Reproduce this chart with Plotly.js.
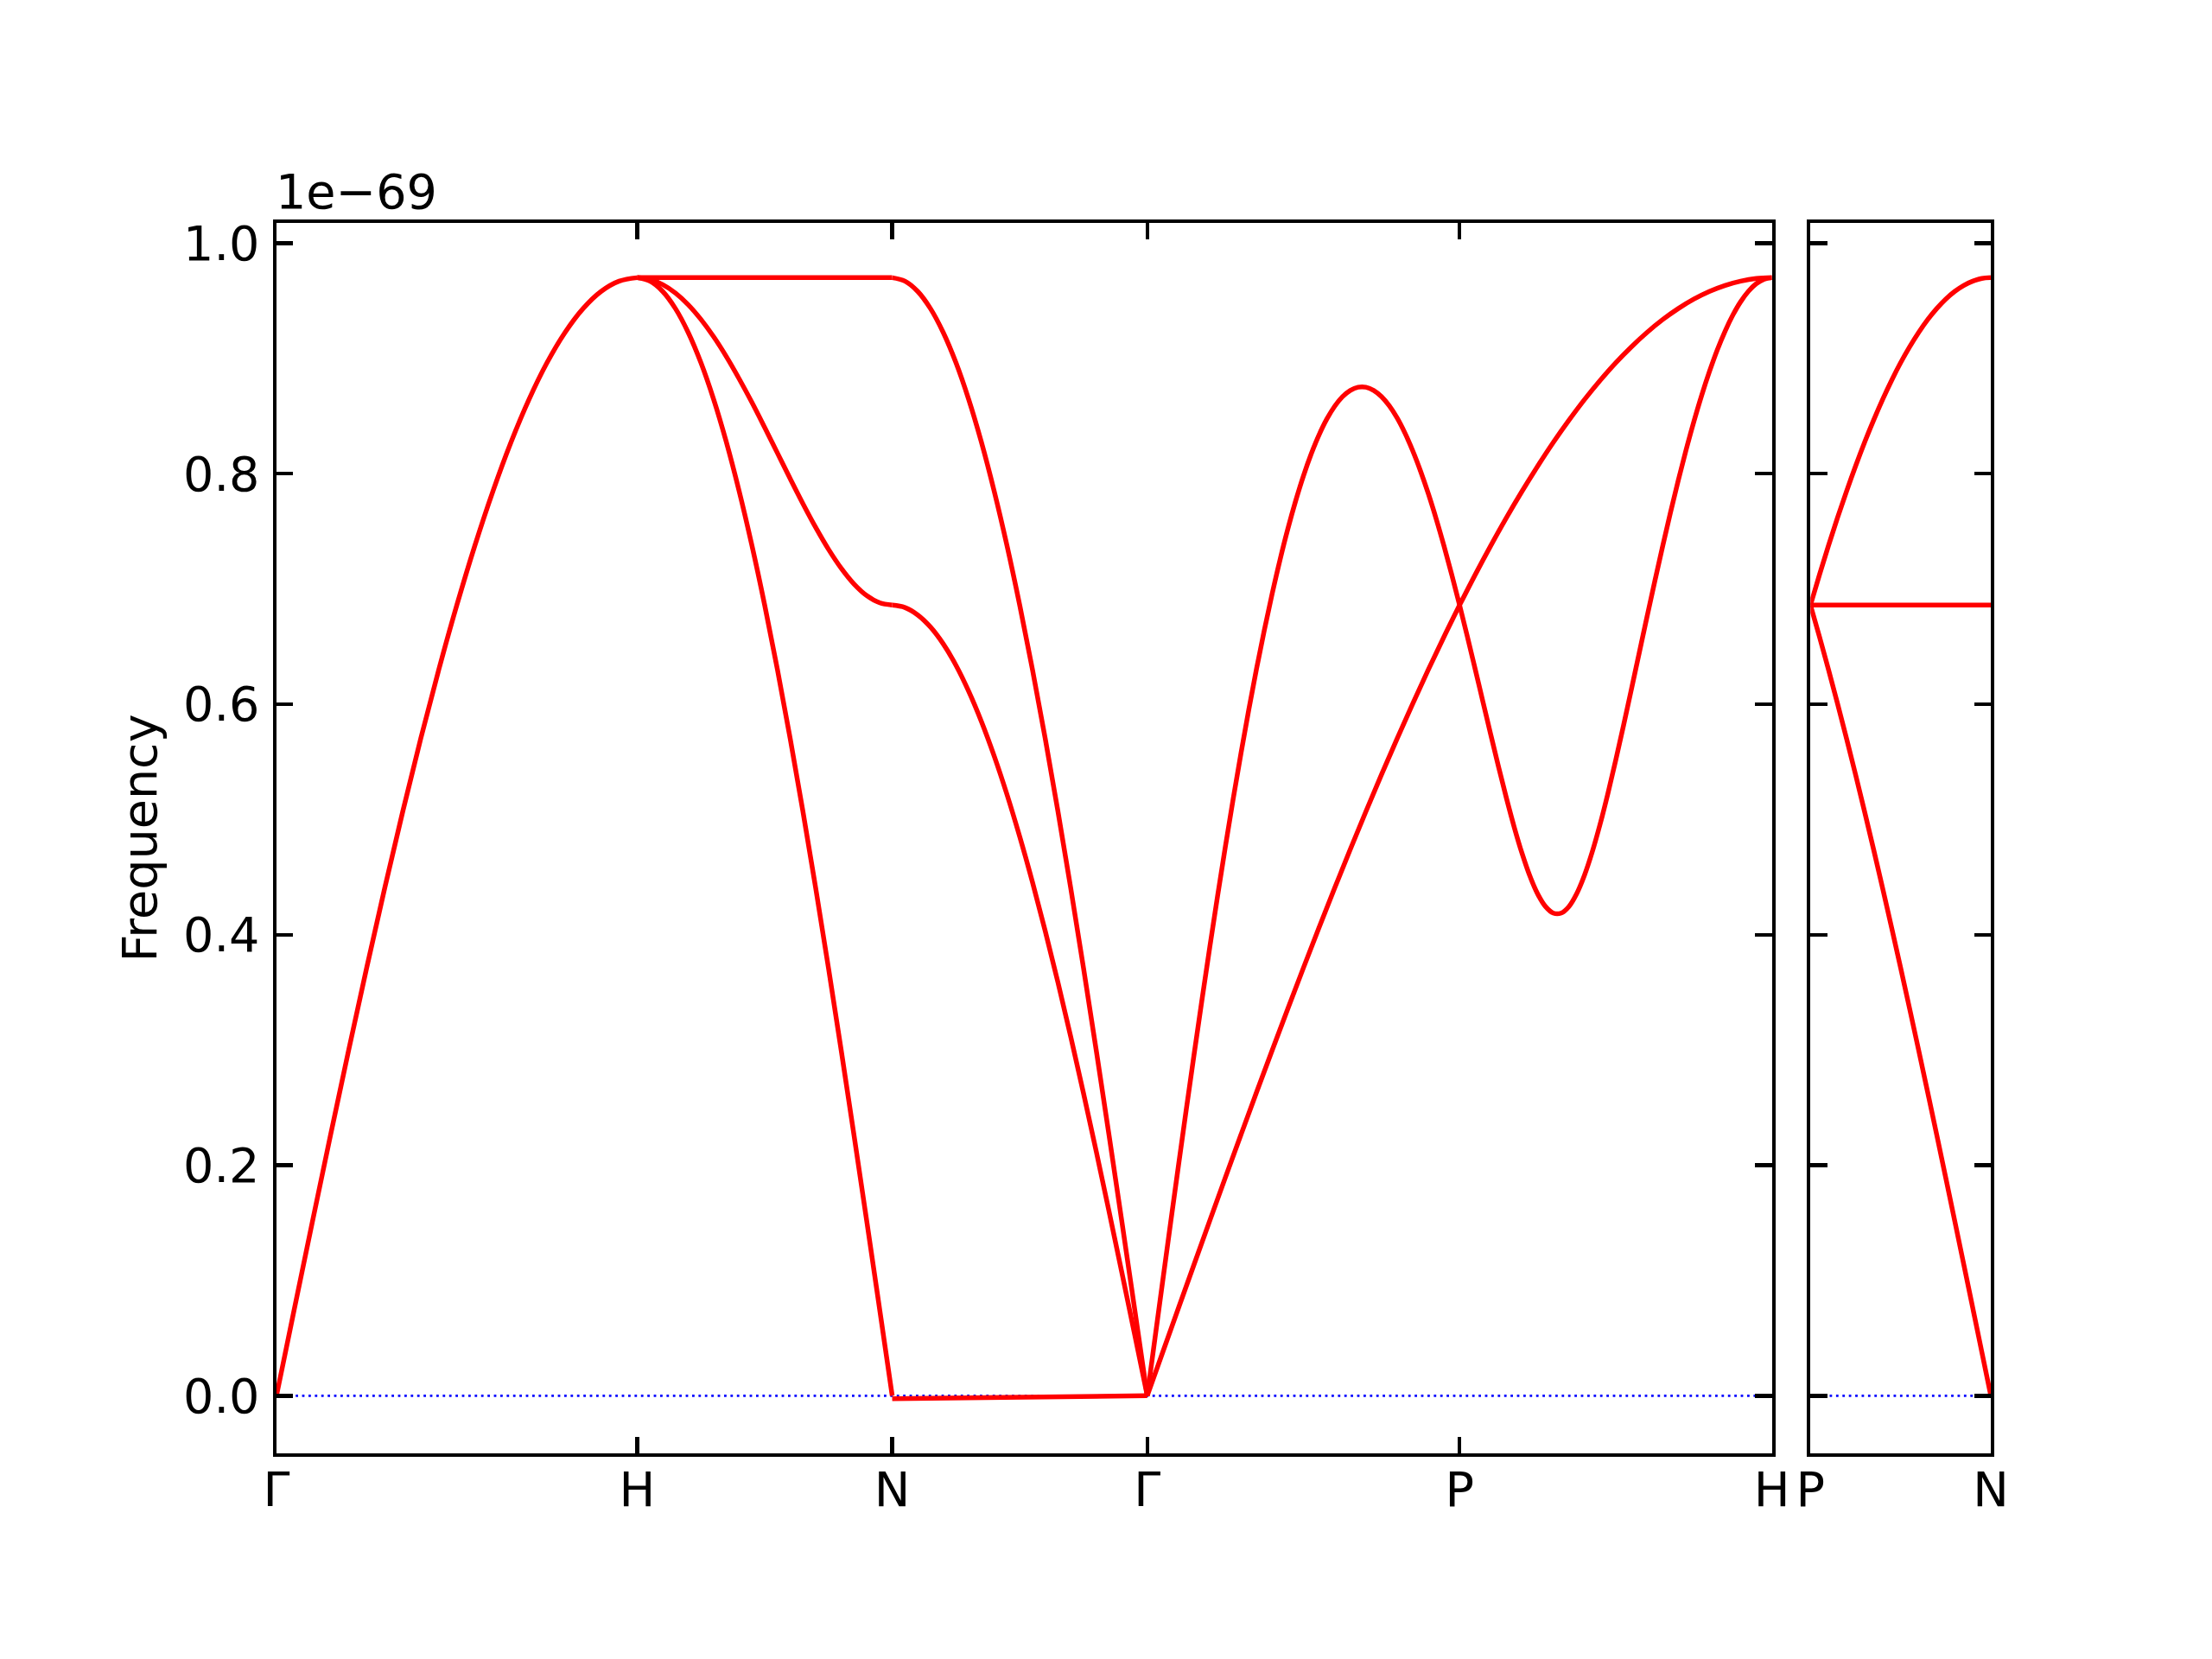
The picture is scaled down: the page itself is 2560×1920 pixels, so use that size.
<!DOCTYPE html>
<html>
<head>
<meta charset="utf-8">
<script src="https://cdn.plot.ly/plotly-3.0.1.min.js"></script>
<style>html,body{margin:0;padding:0;background:#fff;}#plot{width:2560px;height:1920px;}</style>
</head>
<body>
<div id="plot"></div>
<script>
// ---- data ----
// high-symmetry path (main panel) and segment lengths (from tick spacing)
const pathLabels = ['Γ', 'H', 'N', 'Γ', 'P', 'H'];
const segLengths = [1.0, 0.7071, 0.7071, 0.8660, 0.8660];
// side panel path
const sideLabels = ['P', 'N'];
const sideLengths = [0.5];

// frequencies (units of 1e-69), sampled evenly along each segment
// Γ–H
const GH_band = [0, 0.0761, 0.1517, 0.2264, 0.2997, 0.3712, 0.4404, 0.5068, 0.5702, 0.6300, 0.6859,
                 0.7376, 0.7847, 0.8271, 0.8643, 0.8962, 0.9225, 0.9432, 0.9581, 0.9670, 0.9700];
// H–N
const HN_top = [0.9700, 0.9700];
const HN_mid = [0.9700, 0.9685, 0.9640, 0.9567, 0.9466, 0.9338, 0.9187, 0.9014, 0.8822, 0.8617, 0.8400,
                0.8178, 0.7956, 0.7739, 0.7533, 0.7344, 0.7179, 0.7043, 0.6942, 0.6880, 0.6859];
const HN_low = [0.9700, 0.9670, 0.9581, 0.9432, 0.9225, 0.8962, 0.8643, 0.8271, 0.7847, 0.7376, 0.6859,
                0.6300, 0.5702, 0.5068, 0.4404, 0.3712, 0.2997, 0.2264, 0.1517, 0.0761, 0];
// N–Γ
const NG_top = [0.9700, 0.9670, 0.9581, 0.9432, 0.9225, 0.8962, 0.8643, 0.8271, 0.7847, 0.7376, 0.6859,
                0.6300, 0.5702, 0.5068, 0.4404, 0.3712, 0.2997, 0.2264, 0.1517, 0.0761, 0];
const NG_mid = [0.6859, 0.6838, 0.6774, 0.6669, 0.6523, 0.6337, 0.6111, 0.5848, 0.5549, 0.5216, 0.4850,
                0.4455, 0.4032, 0.3584, 0.3114, 0.2625, 0.2120, 0.1601, 0.1073, 0.0538, 0];
const NG_low = [-0.0025, 0];
// Γ–P
const GP_long = [0, 0.0504, 0.1006, 0.1504, 0.1998, 0.2484, 0.2963, 0.3431, 0.3888, 0.4332, 0.4762,
                 0.5176, 0.5572, 0.5950, 0.6308, 0.6644, 0.6959, 0.7251, 0.7519, 0.7762, 0.7980,
                 0.8171, 0.8336, 0.8474, 0.8584, 0.8667, 0.8722, 0.8750, 0.8750, 0.8722, 0.8668,
                 0.8588, 0.8483, 0.8352, 0.8198, 0.8022, 0.7825, 0.7608, 0.7373, 0.7122, 0.6859];
const GP_trans = [0, 0.0381, 0.0761, 0.1140, 0.1517, 0.1892, 0.2264, 0.2633, 0.2997, 0.3357, 0.3712,
                  0.4061, 0.4404, 0.4740, 0.5068, 0.5389, 0.5701, 0.6005, 0.6300, 0.6584, 0.6859];
// P–H
const PH_dip = [0.6859, 0.6585, 0.6303, 0.6018, 0.5733, 0.5453, 0.5184, 0.4932, 0.4705, 0.4509, 0.4353,
                0.4244, 0.4187, 0.4187, 0.4244, 0.4356, 0.4517, 0.4721, 0.4960, 0.5227, 0.5515,
                0.5817, 0.6128, 0.6443, 0.6757, 0.7067, 0.7369, 0.7661, 0.7940, 0.8204, 0.8451,
                0.8679, 0.8886, 0.9073, 0.9236, 0.9376, 0.9492, 0.9583, 0.9648, 0.9687, 0.9700];
const PH_up = [0.6859, 0.7123, 0.7376, 0.7618, 0.7847, 0.8065, 0.8271, 0.8463, 0.8643, 0.8809, 0.8962,
               0.9100, 0.9225, 0.9336, 0.9432, 0.9514, 0.9581, 0.9633, 0.9670, 0.9693, 0.9700];
// P–N (side panel)
const PN_up = [0.6859, 0.7123, 0.7376, 0.7618, 0.7847, 0.8065, 0.8271, 0.8463, 0.8643, 0.8809, 0.8962,
               0.9100, 0.9225, 0.9336, 0.9432, 0.9514, 0.9581, 0.9633, 0.9670, 0.9693, 0.9700];
const PN_flat = [0.6859, 0.6859];
const PN_low = [0.6859, 0.6584, 0.6300, 0.6005, 0.5701, 0.5389, 0.5068, 0.4740, 0.4404, 0.4061, 0.3712,
                0.3357, 0.2997, 0.2633, 0.2264, 0.1892, 0.1517, 0.1140, 0.0761, 0.0381, 0];

const yTicks = [0, 0.2, 0.4, 0.6, 0.8, 1.0];
const yTickText = ['0.0', '0.2', '0.4', '0.6', '0.8', '1.0'];
const offsetText = '1e\u221269';

// ---- build traces ----
const mainBands = [[GH_band], [HN_top, HN_mid, HN_low], [NG_top, NG_mid, NG_low],
                   [GP_long, GP_trans], [PH_dip, PH_up]];
const sideBands = [[PN_up, PN_flat, PN_low]];

function cumulative(lengths) {
  const out = [0];
  lengths.forEach(l => out.push(out[out.length - 1] + l));
  return out;
}
const mainTicks = cumulative(segLengths);
const sideTicks = cumulative(sideLengths);

const FONT = {family: 'DejaVu Sans', size: 55.6, color: '#000000'};
const traces = [];

function zeroLine(xa, ya, xmax) {
  traces.push({x: [0, xmax], y: [0, 0], xaxis: xa, yaxis: ya, mode: 'lines',
    line: {color: '#0000ff', width: 2.8, dash: '2.8px,4.6px'}, hoverinfo: 'skip'});
}
zeroLine('x', 'y', mainTicks[mainTicks.length - 1]);
zeroLine('x2', 'y2', sideTicks[sideTicks.length - 1]);

function addBands(bandsPerSeg, starts, lengths, xa, ya) {
  bandsPerSeg.forEach((bands, i) => {
    bands.forEach(vals => {
      const n = vals.length;
      const xs = vals.map((_, j) => starts[i] + lengths[i] * j / (n - 1));
      traces.push({x: xs, y: vals, xaxis: xa, yaxis: ya, mode: 'lines',
        line: {color: '#ff0000', width: 5.5, shape: 'spline', smoothing: 1, simplify: false}});
    });
  });
}
addBands(mainBands, mainTicks, segLengths, 'x', 'y');
addBands(sideBands, sideTicks, sideLengths, 'x2', 'y2');

const yRange = [-0.05, 1.0175];
const common = {
  ticks: 'inside', ticklen: 19.4, tickwidth: 4.4, tickcolor: '#000000',
  showline: true, linewidth: 4.4, linecolor: '#000000', mirror: 'ticks',
  showgrid: false, zeroline: false, tickfont: FONT, fixedrange: true
};

const layout = {
  width: 2560, height: 1920,
  margin: {l: 320, r: 256, t: 258, b: 238, pad: 0},
  paper_bgcolor: '#ffffff', plot_bgcolor: '#ffffff',
  showlegend: false,
  font: FONT,
  xaxis: Object.assign({}, common, {
    domain: [0, 0.87233], range: [0, mainTicks[mainTicks.length - 1]],
    tickmode: 'array', tickvals: mainTicks, ticktext: pathLabels, anchor: 'y',
    ticklabelstandoff: -10
  }),
  yaxis: Object.assign({}, common, {
    domain: [0, 1], range: yRange, anchor: 'x',
    tickmode: 'array', tickvals: yTicks, ticktext: yTickText,
    ticklabelstandoff: 4,
    title: {text: 'Frequency', font: FONT, standoff: 14}
  }),
  xaxis2: Object.assign({}, common, {
    domain: [0.89481, 1], range: [0, sideTicks[sideTicks.length - 1]],
    tickmode: 'array', tickvals: sideTicks, ticktext: sideLabels, anchor: 'y2',
    ticklabelstandoff: -10
  }),
  yaxis2: Object.assign({}, common, {
    domain: [0, 1], range: yRange, anchor: 'x2',
    tickmode: 'array', tickvals: yTicks, showticklabels: false
  }),
  annotations: [{
    text: offsetText, xref: 'paper', yref: 'paper', x: 0, y: 1,
    xanchor: 'left', yanchor: 'bottom', showarrow: false, font: FONT,
    xshift: -3, yshift: 2
  }]
};

Plotly.newPlot('plot', traces, layout, {staticPlot: true, displayModeBar: false});
</script>
</body>
</html>
